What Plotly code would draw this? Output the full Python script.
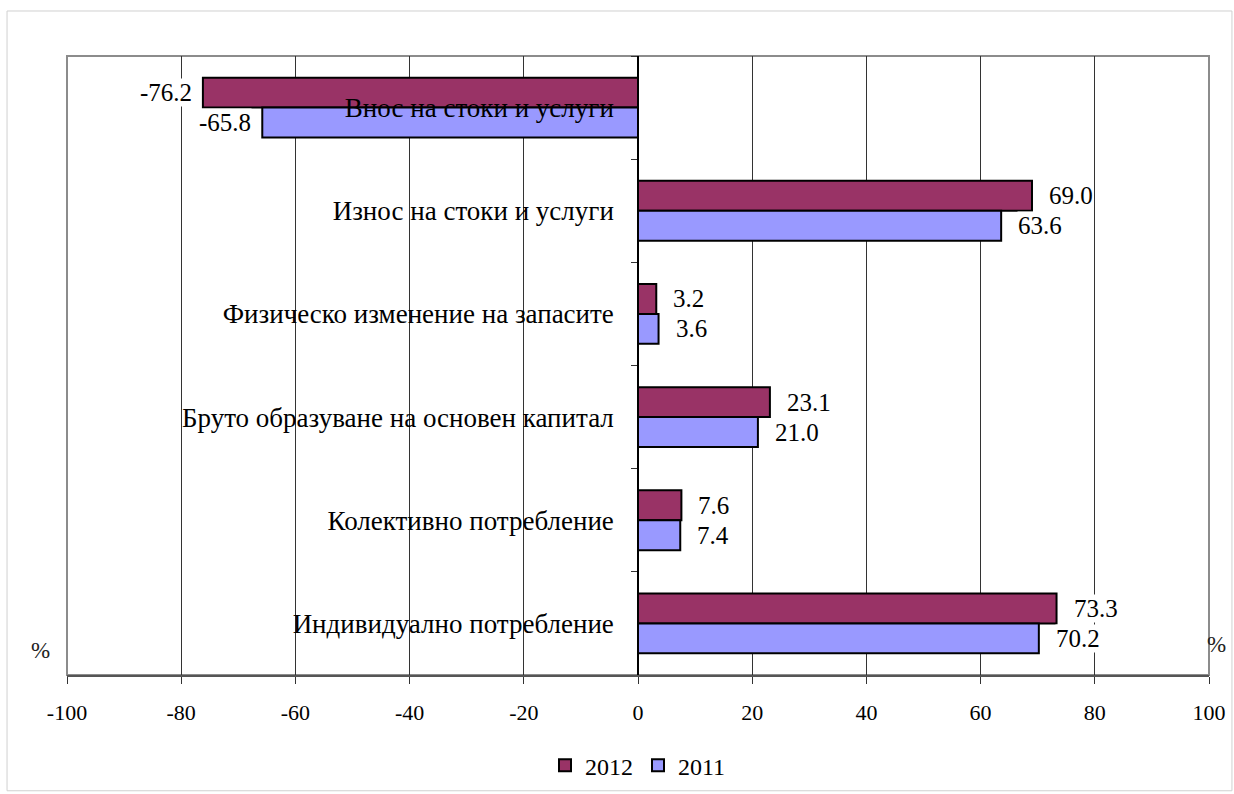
import plotly.graph_objects as go

categories = [
    "Внос на стоки и услуги",
    "Износ на стоки и услуги",
    "Физическо изменение на запасите",
    "Бруто образуване на основен капитал",
    "Колективно потребление",
    "Индивидуално потребление",
]
values_2012 = [-76.2, 69.0, 3.2, 23.1, 7.6, 73.3]
values_2011 = [-65.8, 63.6, 3.6, 21.0, 7.4, 70.2]
series_names = ["2012", "2011"]
x_ticks = [-100, -80, -60, -40, -20, 0, 20, 40, 60, 80, 100]

SERIF = "Liberation Serif"
C2012 = "#993366"
C2011 = "#9999FF"

fig = go.Figure()
for name, vals, col in [(series_names[0], values_2012, C2012), (series_names[1], values_2011, C2011)]:
    fig.add_trace(go.Bar(
        y=categories, x=vals, name=name, orientation="h",
        marker=dict(color=col, line=dict(color="black", width=2)),
    ))

annotations = []
for vals, ys in [(values_2012, 15), (values_2011, -15)]:
    for cat, v in zip(categories, vals):
        annotations.append(dict(
            x=v, y=cat, xref="x", yref="y", text=f"{v:.1f}", showarrow=False,
            xanchor="left" if v >= 0 else "right", xshift=16 if v >= 0 else -10, yshift=ys,
            font=dict(family=SERIF, size=25, color="black"), bgcolor="white",
            borderpad=0,
        ))
annotations.append(dict(x=-0.023, y=0.04, xref="paper", yref="paper", text="%", showarrow=False,
                        xanchor="center", yanchor="middle", font=dict(family=SERIF, size=23, color="#222")))
annotations.append(dict(x=1.007, y=0.05, xref="paper", yref="paper", text="%", showarrow=False,
                        xanchor="center", yanchor="middle", font=dict(family=SERIF, size=23, color="#222")))

shapes = [
    dict(type="rect", xref="paper", yref="paper", x0=-0.0525, x1=1.0201, y0=-0.187, y1=1.0727,
         line=dict(color="#d0d0d0", width=1), layer="below"),
    dict(type="rect", xref="paper", yref="paper", x0=0, x1=1, y0=0, y1=1,
         line=dict(color="#8c8c8c", width=2), layer="below"),
]

fig.update_layout(
    template="none",
    width=1234, height=794,
    paper_bgcolor="white", plot_bgcolor="white",
    margin=dict(l=67, r=25, t=56, b=119, autoexpand=False),
    barmode="group", bargap=0.42, bargroupgap=0,
    showlegend=True,
    legend=dict(orientation="h", x=0.5, xanchor="center", y=-0.11, yanchor="top",
                font=dict(family=SERIF, size=24, color="black"), traceorder="normal",
                itemwidth=30, bgcolor="rgba(0,0,0,0)"),
    xaxis=dict(range=[-100, 100], tickvals=x_ticks, ticktext=[str(t) for t in x_ticks],
               automargin=False,
               showgrid=True, gridcolor="#333333", gridwidth=1, zeroline=False,
               showline=True, linecolor="#555555", linewidth=2,
               ticks="outside", ticklen=7, tickcolor="#333333", tickwidth=1,
               ticklabelstandoff=10,
               tickfont=dict(family=SERIF, size=22, color="black"), fixedrange=True),
    yaxis=dict(type="category", categoryorder="array", categoryarray=categories,
               automargin=False,
               autorange="reversed", anchor="free", position=0.5,
               showline=True, linecolor="black", linewidth=1.5,
               ticks="outside", tickson="boundaries", ticklen=6, tickcolor="#333333",
               ticklabelstandoff=18, showgrid=False, zeroline=False,
               tickfont=dict(family=SERIF, size=27, color="black"), fixedrange=True),
    annotations=annotations,
    shapes=shapes,
    font=dict(family=SERIF),
)

fig.write_html("out.html", config={"displayModeBar": False})
with open("out.html", encoding="utf-8") as f:
    html = f.read()
html = html.replace("<head>", "<head><style>html,body{margin:0;padding:0;overflow:hidden;}</style>", 1)
with open("out.html", "w", encoding="utf-8") as f:
    f.write(html)
